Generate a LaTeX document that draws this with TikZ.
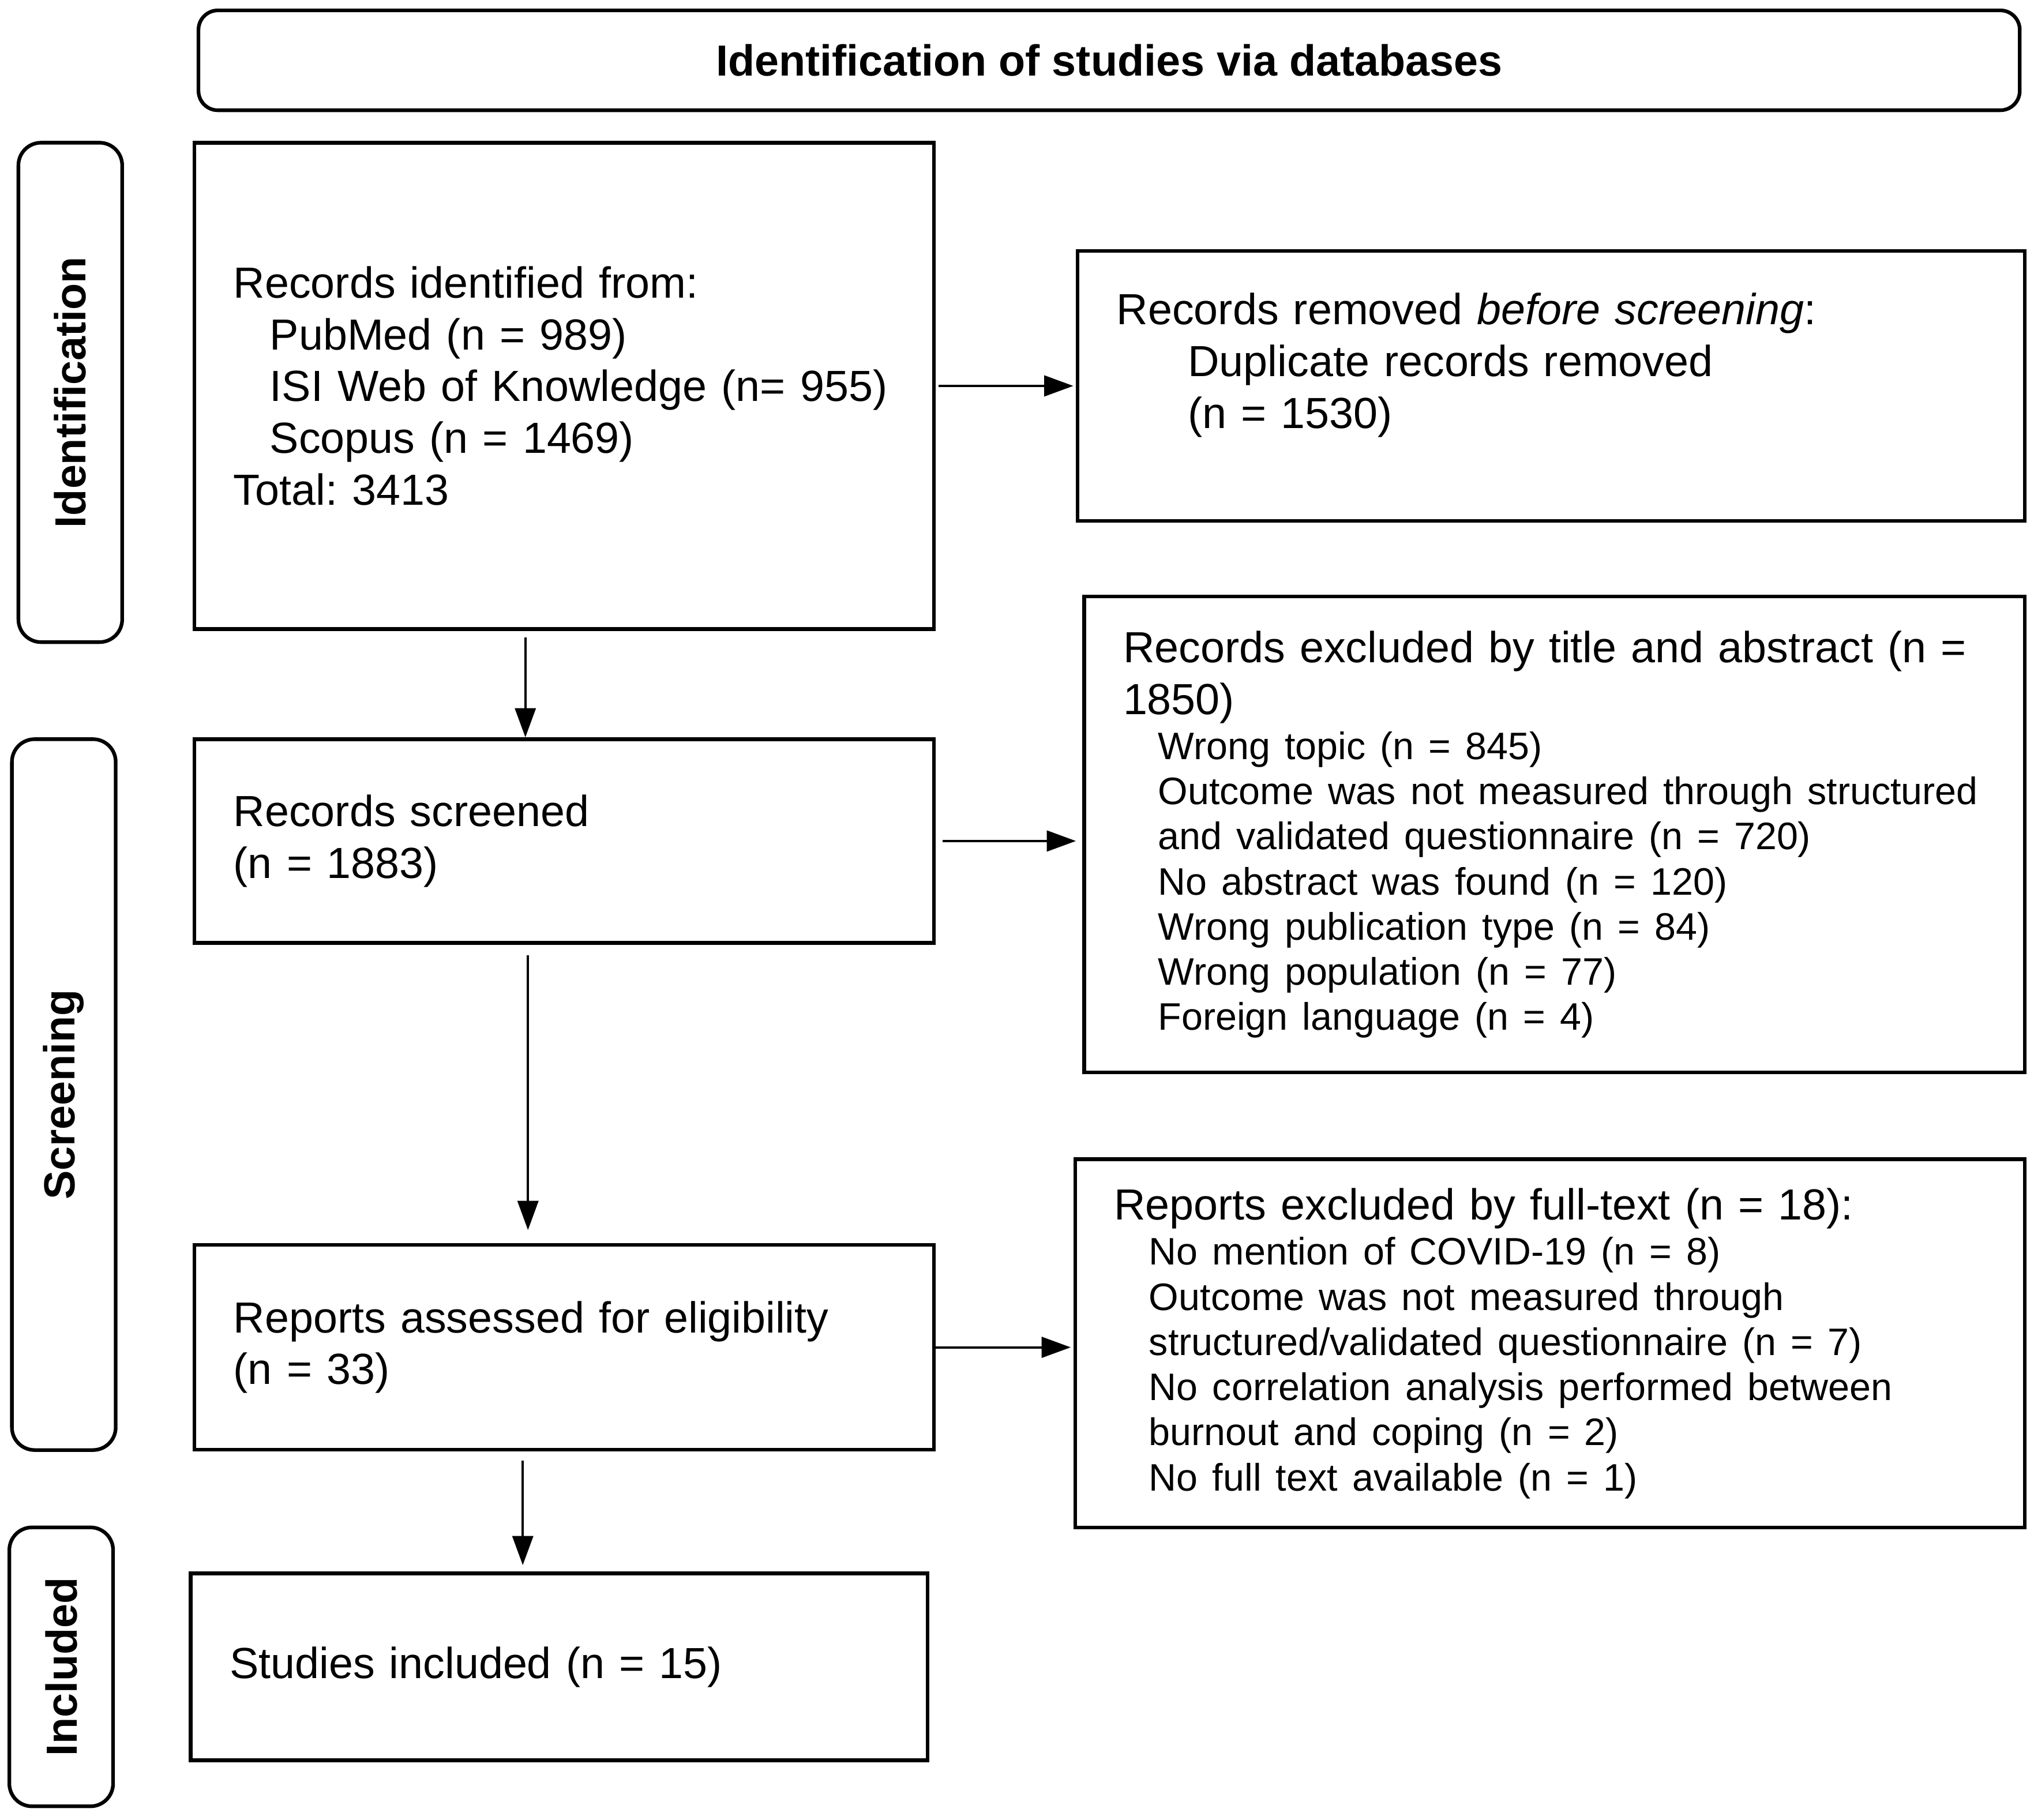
\documentclass[tikz,border=0pt]{standalone}
\usepackage{fontspec}
\usepackage{graphicx}
\setmainfont{Liberation Sans}
\usetikzlibrary{positioning, arrows.meta}
\newcommand{\mainsize}{\fontsize{19.1}{22.7}\selectfont}
\newcommand{\subsize}{\fontsize{16.8}{19.8}\selectfont}
\tikzset{record node/.style={rectangle,draw,line width=1.6pt,align=left,inner xsep=0.6cm,inner ysep=0pt,font=\mainsize,execute at begin node={\frenchspacing\hyphenpenalty=10000\rightskip=-0.6cm plus 1fil}}}
\tikzset{phase node/.style={rectangle,rounded corners=0.35cm,draw,line width=1.6pt,minimum width=1.6cm,inner sep=0pt,font=\mainsize\bfseries}}
\tikzset{title node/.style={rectangle,rounded corners=0.3cm,draw,line width=1.6pt,minimum width=28.08cm,minimum height=1.54cm,inner sep=0pt,font=\mainsize\bfseries}}
\tikzset{flow/.style={draw,line width=1pt,-{Triangle[length=0.45cm,width=0.32cm]}}}

\begin{document}
\begin{tikzpicture}
            \useasboundingbox (0,0) rectangle (31.36,-28.06);
            \node[title node] (head) at (17.1,-0.93) {Identification of studies via databases};
            \node[record node, text width=10.2cm, minimum height=7.5cm] (ident) at (8.7,-5.95) {Records identified from:\\\hspace*{0.56cm}PubMed (n = 989)\\\hspace*{0.56cm}ISI Web of Knowledge (n= 955)\\\hspace*{0.56cm}Scopus (n = 1469)\\Total: 3413};
            \node[record node, text width=13.4cm, minimum height=4.16cm, text depth=67.5pt] (dupl) [right = 2.16cm of ident] {Records removed \textit{before screening}:\\\hspace*{1.1cm}Duplicate records removed\\\hspace*{1.1cm}(n = 1530)};
            \node[record node, text width=10.2cm, minimum height=3.14cm] (scr) [below = 1.64cm of ident] {Records screened\\(n = 1883)};
            \node[record node, text width=13.3cm, minimum height=7.34cm] (titl) [right = 2.26cm of scr, yshift=0.1cm] {Records excluded by title and abstract (n =\\1850)\\{\subsize\hspace*{0.54cm}Wrong topic (n = 845)\\\hspace*{0.54cm}Outcome was not measured through structured\\\hspace*{0.54cm}and validated questionnaire (n = 720)\\\hspace*{0.54cm}No abstract was found (n = 120)\\\hspace*{0.54cm}Wrong publication type (n = 84)\\\hspace*{0.54cm}Wrong population (n = 77)\\\hspace*{0.54cm}Foreign language (n = 4)\par}};
            \node[record node, text width=10.2cm, minimum height=3.16cm] (ass) [below = 4.6cm of scr] {Reports assessed for eligibility\\(n = 33)};
            \node[record node, text width=13.44cm, minimum height=5.68cm] (full) [right = 2.12cm of ass, yshift=0.06cm] {Reports excluded by full-text (n = 18):\\{\subsize\hspace*{0.54cm}No mention of COVID-19 (n = 8)\\\hspace*{0.54cm}Outcome was not measured through\\\hspace*{0.54cm}structured/validated questionnaire (n = 7)\\\hspace*{0.54cm}No correlation analysis performed between\\\hspace*{0.54cm}burnout and coping (n = 2)\\\hspace*{0.54cm}No full text available (n = 1)\par}};
            \node[record node, text width=10.16cm, minimum height=2.88cm] (incl) [below = 1.85cm of ass, xshift=-0.08cm] {Studies included (n = 15)};

            % phases on the left
            \node[phase node, minimum height=7.7cm] (pid) [left = 1.06cm of ident, yshift=-0.1cm] {\rotatebox{90}{Identification}};
            \node[phase node, minimum height=10.96cm] (pscr) [left = 1.16cm of scr.north west, anchor=north east] {\rotatebox{90}{Screening}};
            \node[phase node, minimum height=4.3cm] (pinc) [left = 1.14cm of incl] {\rotatebox{90}{Included}};

            \path
            (ident.east) edge[flow, shorten <=0.04cm, shorten >=0.04cm] (ident.east -| dupl.west)
            ([xshift=-0.6cm]ident.south) edge[flow, shorten <=0.1cm] ([xshift=-0.6cm]scr.north)
            (scr.east) edge[flow, shorten <=0.1cm, shorten >=0.1cm] (scr.east -| titl.west)
            ([xshift=-0.56cm]scr.south) edge[flow, shorten <=0.16cm, shorten >=0.2cm] ([xshift=-0.56cm]ass.north)
            (ass.east) edge[flow, shorten >=0.04cm] (ass.east -| full.west)
            ([xshift=-0.64cm]ass.south) edge[flow, shorten <=0.14cm, shorten >=0.1cm] ([xshift=-0.64cm]ass.south |- incl.north);
        \end{tikzpicture}
\end{document}
